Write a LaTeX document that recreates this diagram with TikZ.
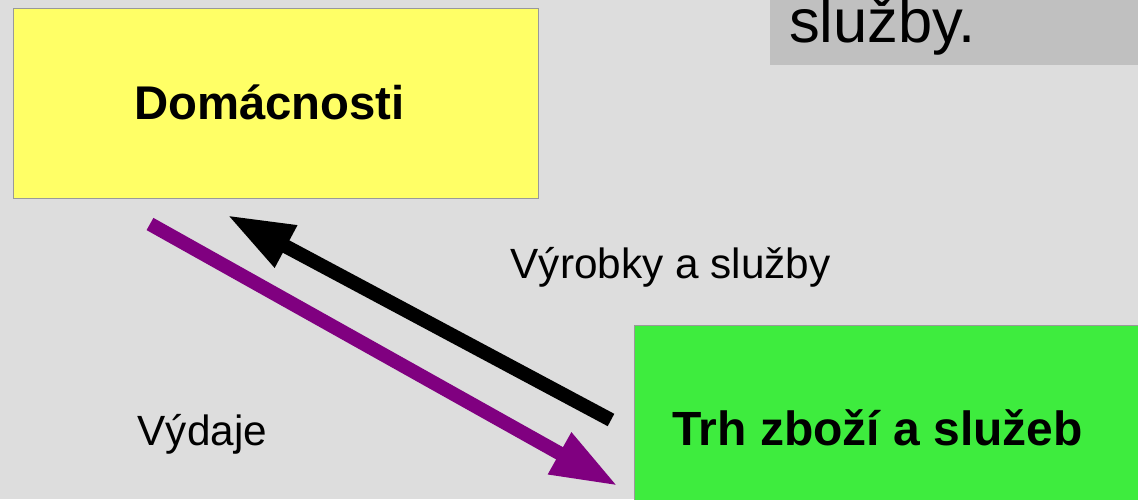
\documentclass[tikz,border=0pt]{standalone}
\usepackage{fontspec}
\setmainfont{Liberation Sans}
\usetikzlibrary{arrows.meta}
\definecolor{bgc}{HTML}{DDDDDD}
\definecolor{yellowc}{HTML}{FFFF66}
\definecolor{greenc}{HTML}{3EEC3E}
\definecolor{grayc}{HTML}{C0C0C0}
\definecolor{purplec}{HTML}{800080}
\definecolor{borderc}{HTML}{999999}
\tikzset{
  box/.style={draw=borderc, line width=0.8pt, inner sep=0pt, anchor=north west},
  flow/.style={line width=14pt, -{Triangle[length=67pt,width=44pt]}},
  boldlabel/.style={inner sep=0pt, font=\fontsize{47.3}{56}\selectfont\bfseries},
  plainlabel/.style={inner sep=0pt, anchor=base west, font=\fontsize{42.3}{50}\selectfont}
}
\begin{document}
\begin{tikzpicture}[x=1pt,y=-1pt]
\fill[bgc] (0,0) rectangle (1138,499);
\useasboundingbox (0,0) rectangle (1138,499);
% top-right grey box
\node[inner sep=0pt, fill=grayc, anchor=north west, minimum width=380pt, minimum height=65pt] (title) at (770,-0.01) {};
\node[inner sep=0pt, anchor=base west, font=\fontsize{61.5}{70}\selectfont] (titletext) at (789,42) {služby.};
% boxes
\node[box, fill=yellowc, minimum width=525pt, minimum height=190pt] (dom) at (12.5,8) {};
\node[boldlabel] (domtext) at (269.5,102) {Domácnosti};
\node[box, fill=greenc, minimum width=520pt, minimum height=190pt] (trh) at (634,325) {};
\node[boldlabel, anchor=base, font=\fontsize{48}{56}\selectfont\bfseries] (trhtext) at (877.5,445) {Trh zboží a služeb};
% labels
\node[plainlabel] (vyrobky) at (510.5,278.5) {Výrobky a služby};
\node[plainlabel] (vydaje) at (137.5,445) {Výdaje};
% arrows
\coordinate (ps) at (150,224);
\coordinate (pe) at (618,486);
\coordinate (bs) at (611,420);
\coordinate (be) at (227,215);
\draw[flow, purplec] (ps) -- (pe);
\draw[flow, black] (bs) -- (be);
\end{tikzpicture}
\end{document}
